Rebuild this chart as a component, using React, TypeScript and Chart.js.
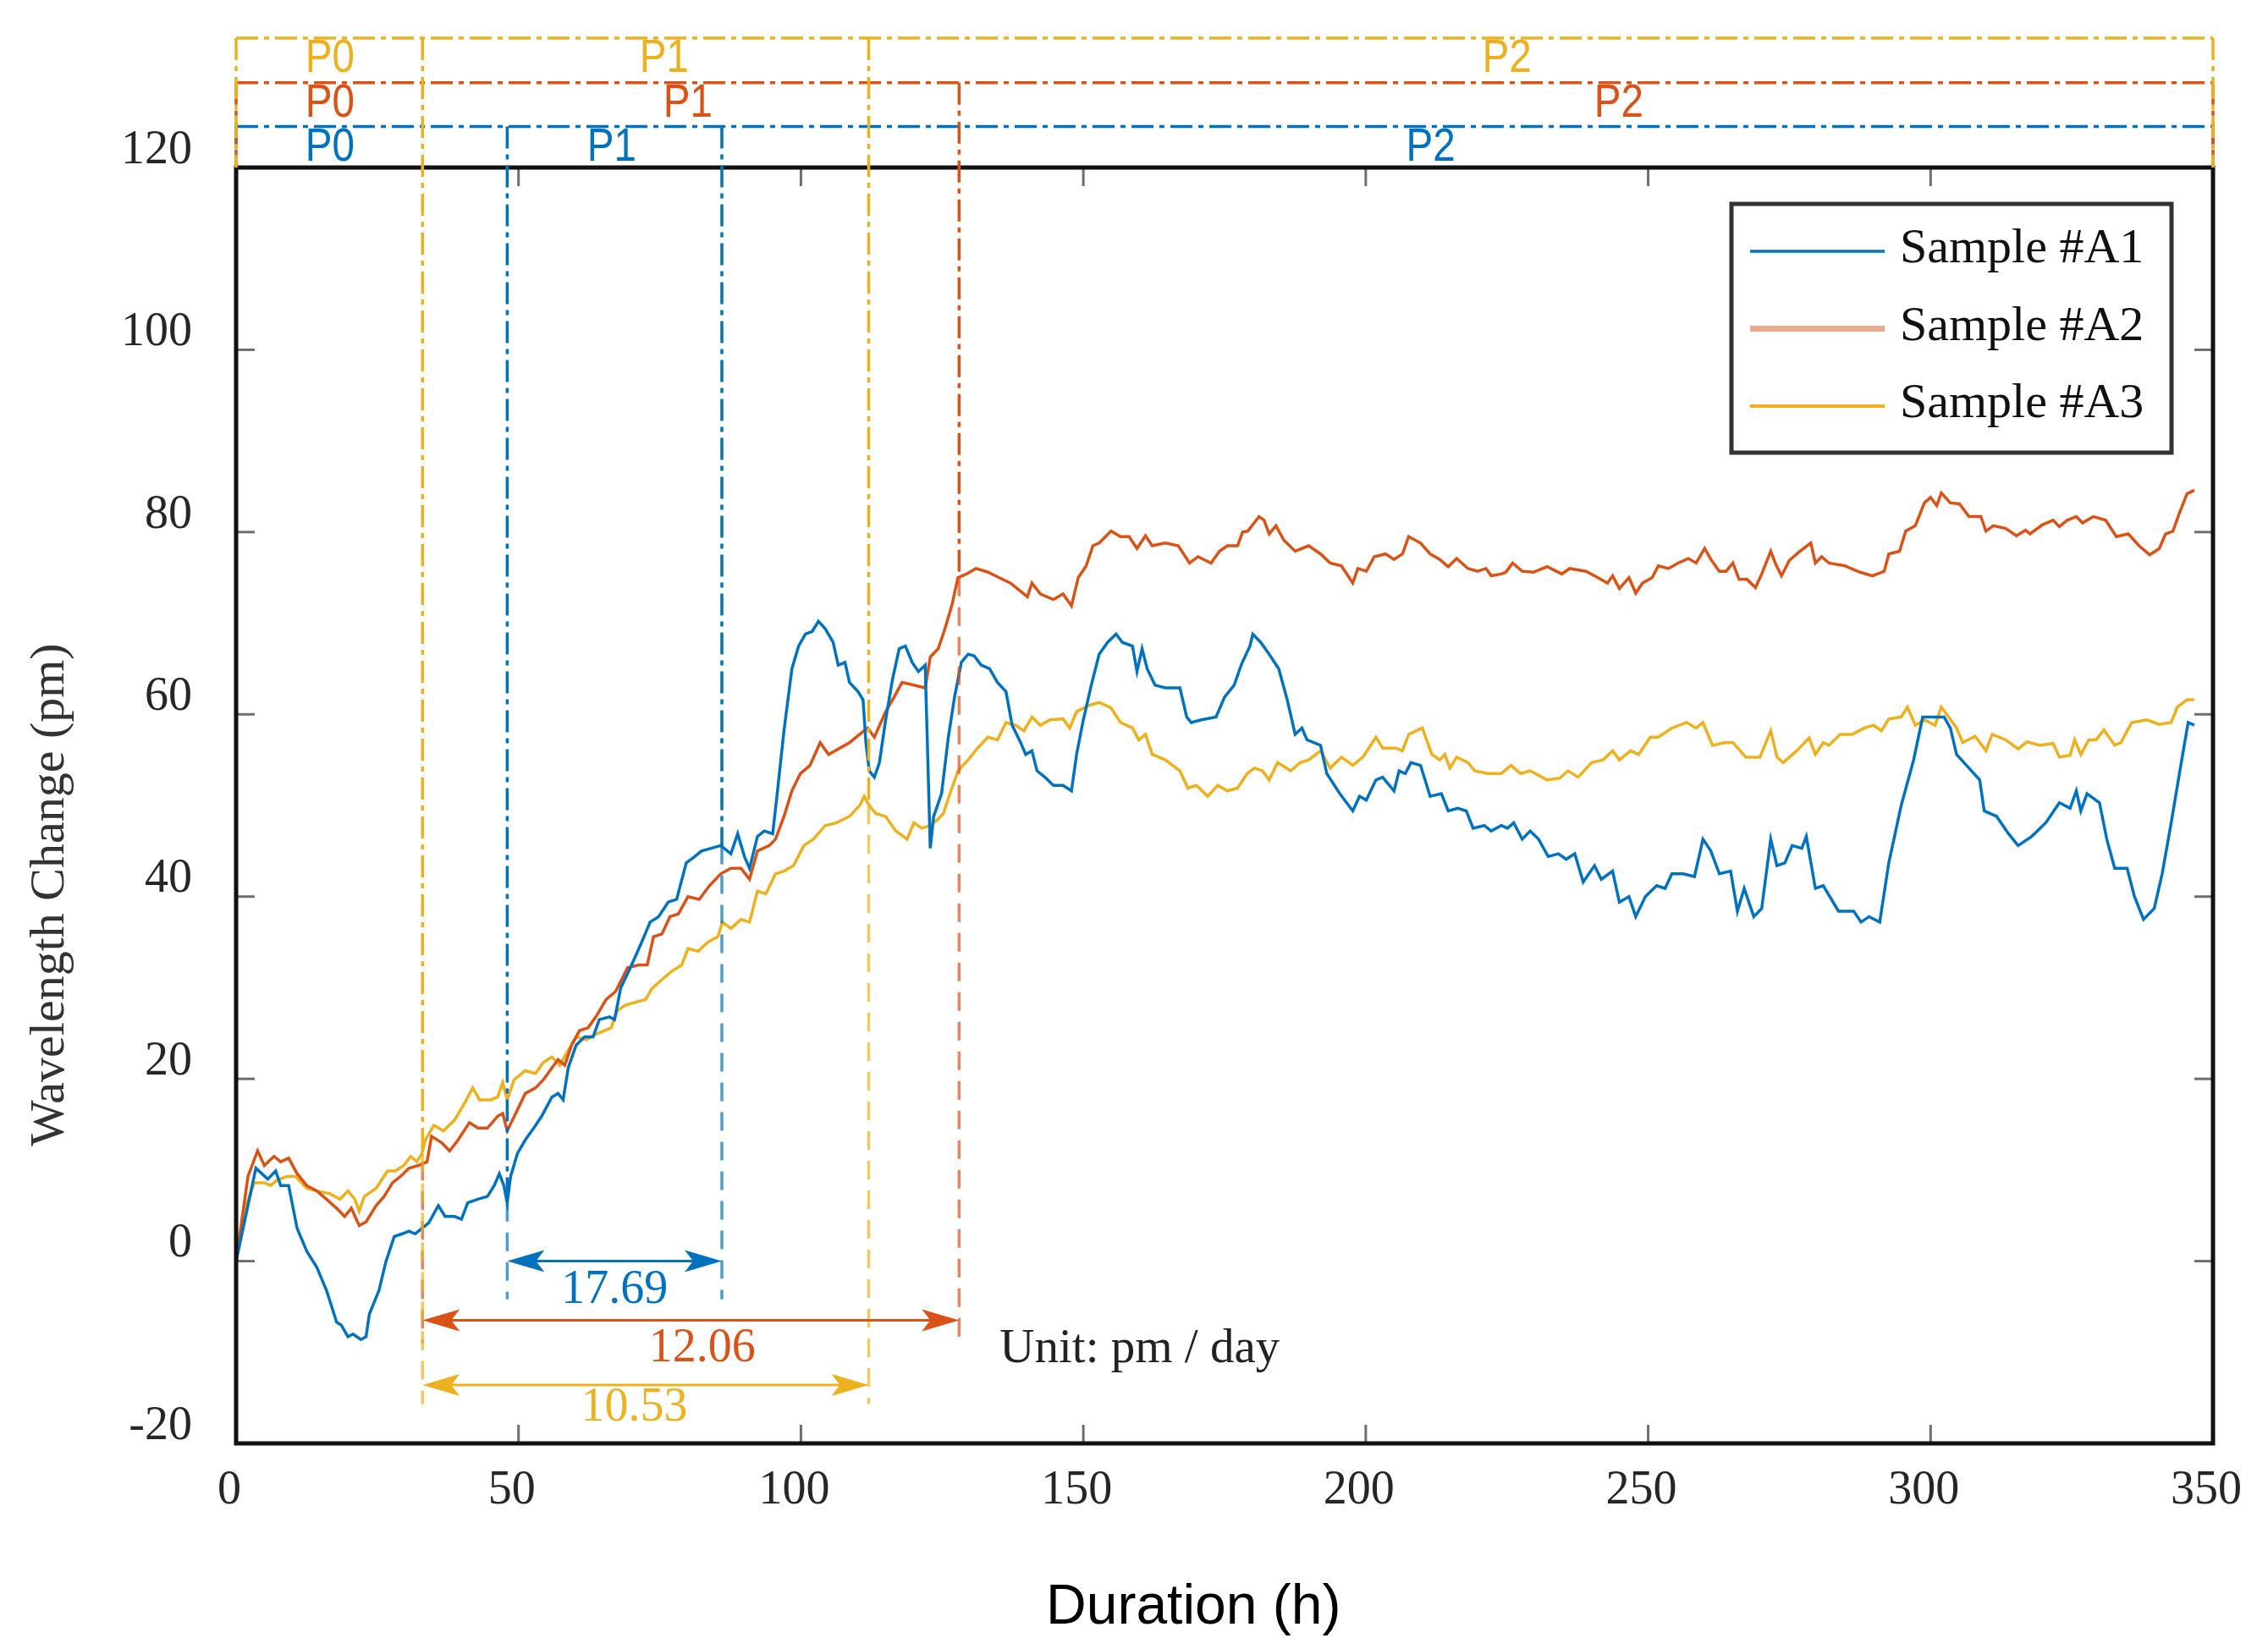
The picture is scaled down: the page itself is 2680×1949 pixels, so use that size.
import React, { useRef, useEffect } from 'react';
import { Chart, registerables } from 'chart.js';

Chart.register(...registerables);

// Sample #A1 (blue)
const a1Hours = [
  0, 3.5, 5.6, 7, 7.9, 9.3, 10.8, 12.5, 14.3, 16, 17.8, 18.6, 19.8, 20.7, 22.1, 23, 23.6, 25.3, 26.5, 28,
  29.4, 30.6, 31.7, 32.9, 34.1, 35.8, 37, 38.7, 39.9, 41, 42.8, 44.5, 45.7, 46.6, 47.4, 48, 48.6, 49.8, 51.2, 52.7,
  54.1, 55.9, 57, 57.9, 58.8, 60.2, 61.7, 63.2, 64.3, 66.1, 67, 68.1, 69.8, 71.6, 73.3, 74.8, 76.5, 78, 79.7, 81.2,
  82.4, 84.1, 85.8, 87.6, 88.8, 90, 90.9, 92.3, 93.5, 95, 95.8, 97, 98.4, 99.6, 100.8, 102, 103.1, 104.3, 105.7, 106.6,
  107.8, 108.6, 110.1, 111, 111.5, 112.1, 113, 113.9, 115, 116.2, 117.4, 118.5, 119.7, 120.8, 122, 122.9, 123.5, 124.9, 126.1, 127.2,
  128.4, 129.6, 130.7, 131.9, 133.4, 134.8, 136.3, 137.4, 138.9, 139.8, 140.9, 141.8, 143.2, 144.7, 146.4, 147.9, 148.8, 150, 151.4, 152.8,
  154.3, 155.8, 156.9, 158.7, 159.5, 160.4, 161.3, 162.7, 164.5, 167.1, 168.3, 169.1, 170.9, 173.5, 175, 176.7, 178, 179.5, 180, 181.4,
  182.9, 184.6, 186.1, 187.5, 188.7, 189.6, 192, 193.1, 195.4, 197.7, 198.9, 200.1, 201.8, 203, 205, 205.9, 207, 208, 209.7, 211.4,
  213.4, 214.6, 216.3, 217.8, 219, 221, 222.2, 224, 225.1, 226.2, 227.7, 229.1, 230.6, 232.3, 234.1, 235.5, 237, 238.5, 240.5, 241.7,
  243.7, 244.9, 246.6, 247.8, 249.5, 251.5, 253, 254.2, 256.2, 258.2, 259.7, 261.1, 262.6, 264.6, 265.8, 267, 268.7, 270.1, 271.7, 272.8,
  274.2, 275.5, 277.2, 278, 279.6, 281, 283.7, 286.4, 287.7, 289.1, 291, 292.6, 294.8, 297, 298.6, 300.8, 302.4, 303.5, 304.6, 306.8,
  308.7, 309.5, 311.7, 313.8, 315.5, 317.9, 320.4, 322.8, 324.7, 325.8, 326.6, 327.7, 329.9, 331.2, 332.6, 334.8, 336.1, 337.7, 339.6, 341,
  342.6, 344.3, 345.6, 346.7,
];
const a1Values = [
  0, 10.2, 9.0, 9.9, 8.3, 8.3, 3.6, 1.1, -0.7, -3.2, -6.7, -7.0, -8.3, -8.0, -8.6, -8.3, -5.8, -3.2, -0.1, 2.7,
  3.0, 3.3, 3.0, 3.6, 4.2, 6.1, 4.9, 4.9, 4.6, 6.4, 6.8, 7.1, 8.3, 9.6, 8.3, 6.4, 9.3, 11.8, 13.3, 14.6,
  15.9, 18.0, 18.4, 17.7, 21.2, 23.7, 24.6, 24.6, 26.5, 26.8, 26.5, 30.0, 32.2, 34.7, 37.2, 37.8, 39.4, 39.7, 43.7, 44.4,
  45.0, 45.3, 45.6, 44.7, 46.9, 44.4, 43.1, 46.6, 47.2, 46.9, 51.3, 58.2, 65.0, 67.5, 68.8, 69.1, 70.2, 69.4, 67.9, 65.4,
  65.7, 63.5, 62.5, 61.6, 56.9, 53.8, 53.1, 54.7, 59.4, 63.8, 67.2, 67.5, 65.7, 64.7, 65.4, 45.3, 48.8, 51.3, 57.5, 61.9,
  65.7, 66.6, 66.4, 65.4, 65.0, 63.5, 62.5, 58.8, 56.9, 55.6, 56.0, 53.8, 53.1, 52.2, 52.2, 51.6, 55.6, 59.4, 63.2, 66.6,
  67.9, 68.8, 67.9, 67.5, 64.7, 67.2, 65.0, 63.2, 62.9, 62.9, 59.7, 59.1, 59.4, 59.7, 61.9, 63.2, 65.5, 67.5, 68.8, 67.9,
  66.6, 65.0, 61.6, 57.8, 58.5, 57.2, 56.6, 53.5, 51.3, 49.4, 51.0, 50.6, 52.8, 53.1, 51.6, 53.8, 53.5, 54.7, 54.4, 51.0,
  51.3, 49.4, 49.7, 49.4, 47.5, 47.8, 47.2, 47.8, 47.5, 48.1, 46.3, 47.2, 46.3, 44.4, 44.7, 44.1, 44.7, 41.6, 43.4, 41.9,
  42.8, 39.4, 40.0, 37.8, 40.0, 41.2, 40.9, 42.5, 42.5, 42.2, 46.3, 45.0, 42.5, 42.8, 38.4, 40.9, 37.8, 38.7, 46.3, 43.4,
  43.7, 45.6, 45.3, 46.6, 40.9, 41.2, 38.4, 38.4, 37.2, 37.8, 37.2, 43.7, 50.0, 55.0, 59.7, 59.7, 59.7, 58.5, 55.6, 54.1,
  52.8, 49.4, 48.8, 46.9, 45.6, 46.6, 48.1, 50.3, 49.7, 51.6, 49.4, 51.3, 50.3, 46.3, 43.1, 43.1, 40.0, 37.5, 38.7, 42.5,
  48.1, 54.4, 59.1, 58.8,
];

// Sample #A2 (orange)
const a2Hours = [
  0, 2.1, 3.8, 5, 6.7, 7.9, 9.3, 10.8, 12.5, 14.3, 16, 17.8, 19.2, 20.4, 21.8, 23, 24.8, 26.2, 27.7, 29.1,
  30.6, 32.3, 33.8, 34.6, 36.4, 37.8, 39.3, 41.3, 42.8, 44.5, 46.3, 47.2, 48, 49.5, 51.2, 53, 54.4, 55.9, 57, 58.2,
  59.4, 60.8, 62.3, 63.7, 65.5, 67.2, 69.3, 71.3, 72.8, 73.9, 75.4, 76.8, 78.3, 80, 82, 83.8, 85.8, 87.6, 89.4, 90.9,
  92.3, 94.4, 95.5, 97, 98.4, 99.9, 101.6, 103.4, 104.9, 106.9, 108.6, 110.4, 111.8, 113, 115, 116.5, 117.9, 120, 122, 122.9,
  124.3, 125.5, 126.7, 127.8, 129.3, 131, 133.1, 135.1, 137.1, 138.9, 140.1, 140.9, 142.4, 144.7, 146.4, 147.9, 149.1, 150.5, 151.7, 152.8,
  154.9, 156.6, 158.1, 159.5, 161, 162.2, 164.5, 166.8, 168.8, 170.3, 172.6, 174.1, 175.5, 177.3, 178.2, 179.1, 181.1, 182, 182.9, 184.1,
  185.5, 187.5, 189.9, 192, 193.7, 195.7, 197.7, 198.6, 200.1, 201.5, 203.5, 205, 206.5, 207.6, 209.7, 211.4, 213.1, 214.6, 216.1, 218.1,
  219.8, 221.3, 222.2, 224, 224.8, 226, 227.7, 229.7, 232.1, 234.7, 236.1, 239, 241.1, 242.8, 243.7, 244.9, 246.6, 247.8, 249, 250.7,
  251.8, 253.6, 255.3, 257.1, 258.5, 260, 261.1, 262.6, 263.8, 265, 266.1, 267.5, 269, 270.1, 271.7, 272.5, 273.6, 275, 276.9, 278.8,
  279.6, 280.7, 282, 284.8, 287.5, 289.7, 291.8, 292.6, 294.5, 295.6, 297.3, 298.9, 300, 301.1, 301.9, 303.5, 305.1, 306.8, 308.9, 309.8,
  311.1, 313.3, 315.2, 316.8, 317.6, 319.8, 321.7, 322.8, 324.2, 325.8, 326.9, 328.8, 331, 332.9, 335, 336.9, 338.8, 340.5, 341.6, 342.9,
  344, 345.4, 346.7,
];
const a2Values = [
  0, 9.3, 12.1, 10.5, 11.5, 10.9, 11.3, 9.6, 8.3, 7.7, 6.8, 5.8, 4.9, 5.8, 3.9, 4.3, 6.1, 7.1, 8.6, 9.3,
  10.2, 10.5, 10.9, 13.7, 13.0, 12.1, 13.3, 15.2, 14.6, 14.6, 15.9, 16.2, 14.3, 16.2, 18.4, 19.0, 19.9, 21.2, 22.1, 21.5,
  23.7, 25.3, 25.6, 26.8, 28.7, 29.6, 32.2, 32.5, 32.5, 35.6, 35.9, 37.8, 38.1, 40.0, 39.7, 41.2, 42.5, 43.1, 43.1, 41.9,
  45.0, 45.6, 46.3, 48.8, 51.6, 53.5, 54.4, 56.9, 55.6, 56.3, 56.9, 57.8, 58.5, 57.5, 60.3, 61.9, 63.5, 63.2, 62.9, 66.3,
  67.2, 69.4, 71.9, 75.0, 75.4, 76.0, 75.6, 75.0, 74.4, 73.5, 72.9, 74.4, 73.2, 72.6, 73.2, 71.9, 75.0, 76.3, 78.5, 78.8,
  80.1, 79.5, 79.5, 78.2, 79.6, 78.5, 78.8, 78.5, 76.6, 77.3, 76.6, 77.9, 78.5, 78.5, 80.0, 80.1, 81.7, 81.3, 79.8, 80.7,
  79.1, 77.9, 78.5, 77.6, 76.6, 76.3, 74.4, 76.0, 75.7, 77.3, 77.6, 77.0, 77.6, 79.5, 78.8, 77.6, 77.0, 76.2, 77.1, 76.0,
  75.7, 76.0, 75.2, 75.4, 75.6, 76.6, 75.7, 75.6, 76.2, 75.4, 76.0, 75.7, 75.0, 74.4, 75.2, 73.8, 75.0, 73.3, 74.4, 75.0,
  76.3, 76.0, 76.6, 77.1, 76.6, 78.2, 77.0, 75.7, 75.7, 76.6, 74.8, 74.8, 73.9, 75.4, 77.9, 76.6, 75.2, 76.9, 77.9, 78.8,
  76.6, 77.3, 76.6, 76.3, 75.6, 75.2, 75.7, 77.6, 77.9, 80.1, 80.7, 83.2, 83.8, 82.9, 84.3, 83.2, 83.1, 81.7, 81.7, 80.1,
  80.7, 80.4, 79.6, 80.2, 79.8, 80.8, 81.3, 80.6, 81.3, 81.7, 81.0, 81.7, 81.3, 79.5, 79.8, 78.5, 77.5, 78.2, 79.8, 80.1,
  82.0, 84.2, 84.6,
];

// Sample #A3 (yellow)
const a3Hours = [
  0, 1.8, 3.2, 5, 6.1, 7.3, 9, 10.5, 12.5, 14.3, 16.6, 18.4, 19.8, 21, 21.8, 22.7, 24.8, 26.8, 28.2, 29.7,
  30.9, 32, 32.9, 33.5, 35, 36.7, 38.7, 40.5, 41.9, 43.1, 45.1, 46.3, 47.2, 48, 49.2, 51.2, 53, 54.4, 55.9, 57.3,
  58.5, 60.2, 62, 63.7, 65.2, 66.4, 67.5, 69, 70.7, 72.5, 73.6, 75.4, 77.1, 78.9, 80, 81.8, 83.5, 85.3, 86.1, 87.6,
  89.4, 90.9, 92.3, 93.8, 95.5, 97, 98.7, 100.5, 102.2, 104.3, 106.3, 108.6, 110.4, 111.2, 112.1, 113.3, 115, 116.8, 118.8, 120,
  121.4, 122.9, 124.1, 125.2, 126.4, 127.8, 129.6, 131.3, 133.1, 134.8, 136.3, 138, 139.5, 140.9, 142.4, 144.1, 146.4, 147.6, 148.8, 151.1,
  152.8, 154.9, 156.6, 158.7, 159.8, 161, 162.2, 164.5, 167.1, 168.5, 170, 172, 173.8, 175.5, 177.3, 179, 180.3, 181.7, 182.9, 184.4,
  186.7, 188.4, 189.9, 192, 193.7, 195.7, 197.7, 199.5, 201.8, 203, 205.3, 206.5, 207.6, 210, 211.7, 213.1, 214, 214.9, 216.1, 218.1,
  219.3, 221.6, 224, 225.7, 227.4, 229.1, 232.1, 234.4, 235.8, 237.6, 240, 242, 243.7, 244.9, 246.9, 248.3, 250.4, 251.8, 254.2, 256.8,
  258.5, 259.7, 261.4, 263.5, 265, 267.3, 269.8, 271.7, 272.8, 273.9, 276.3, 278.5, 279.6, 281, 282, 284, 286.1, 288.3, 289.9, 291.3,
  292.6, 294.8, 295.9, 297.3, 298.9, 300.8, 301.9, 303.2, 304.6, 305.7, 307.9, 309.8, 310.9, 313.3, 315.5, 317.1, 319.3, 321.7, 322.8, 324.7,
  325.5, 326.6, 328, 329.3, 330.7, 332.6, 333.7, 335.6, 338.3, 340.5, 342.6, 343.7, 345.4, 346.7,
];
const a3Values = [
  0.2, 6.1, 8.6, 8.6, 8.3, 8.9, 9.3, 9.3, 8.0, 7.7, 7.4, 6.8, 7.7, 6.8, 5.5, 7.1, 8.0, 9.9, 9.9, 10.5,
  11.5, 10.9, 11.8, 13.3, 14.9, 14.3, 15.5, 17.4, 19.0, 17.7, 17.7, 18.0, 19.6, 17.7, 19.9, 20.9, 20.6, 21.8, 22.4, 21.5,
  22.8, 24.6, 24.3, 24.9, 25.3, 25.6, 27.5, 28.1, 28.4, 28.7, 29.9, 30.9, 31.8, 32.5, 34.3, 34.0, 35.0, 35.6, 37.2, 36.5,
  37.5, 37.2, 40.6, 40.3, 42.5, 42.8, 43.4, 45.6, 46.3, 47.8, 48.1, 48.8, 50.0, 51.0, 50.0, 49.1, 48.8, 47.2, 46.3, 48.1,
  47.5, 47.8, 48.4, 49.1, 51.3, 53.8, 55.0, 56.3, 57.5, 57.2, 59.1, 58.8, 58.2, 59.7, 58.8, 59.4, 59.5, 58.5, 60.3, 61.0,
  61.3, 60.7, 59.1, 58.5, 57.2, 57.8, 55.6, 55.0, 53.8, 51.9, 52.2, 51.0, 52.2, 51.6, 51.9, 53.5, 54.1, 53.8, 52.8, 54.7,
  53.8, 54.7, 55.0, 56.0, 54.1, 55.3, 54.4, 55.3, 57.5, 56.3, 56.3, 56.0, 57.8, 58.5, 55.6, 55.0, 55.6, 54.1, 55.3, 54.7,
  53.8, 53.5, 53.5, 54.4, 53.5, 53.8, 52.8, 53.0, 53.8, 53.1, 54.7, 55.0, 56.0, 55.0, 56.0, 55.6, 57.5, 57.5, 58.5, 59.1,
  58.5, 59.1, 56.6, 56.9, 56.9, 55.3, 55.3, 58.2, 55.3, 54.7, 56.0, 57.4, 55.6, 56.9, 56.6, 57.8, 57.8, 58.5, 58.8, 58.2,
  59.5, 59.7, 60.8, 58.8, 59.4, 58.8, 60.8, 59.7, 58.5, 56.9, 57.6, 56.0, 57.8, 57.2, 56.2, 57.0, 56.6, 56.8, 55.3, 55.5,
  57.2, 55.6, 57.2, 57.2, 58.3, 56.6, 56.9, 59.1, 59.4, 58.9, 59.1, 60.8, 61.6, 61.6,
];

const sampleNames = ['Sample #A1', 'Sample #A2', 'Sample #A3'];
const sampleColors = ['#0072BD', '#D95319', '#EDB120'];
const legendLineColors = ['#0072BD', '#EDA88B', '#EDB120'];

// phase brackets above the plot (blue, orange, yellow)
const phaseLevels = [124.5, 129.3, 134.2];
const phaseSplits = [[48, 86], [33, 128], [33, 112]];
const splitCurveValues = [[6.4, 45.6], [10.9, 75.0], [11.8, 50.0]];
const splitHasUpper = [[true, true], [false, true], [true, true]]; // orange P0/P1 line is hidden behind the yellow one
const splitBottoms = [-4.2, -9.0, -15.7];
const phaseNames = ['P0', 'P1', 'P2'];
const phaseLabelHours = [[16.6, 66.5, 211.5], [16.6, 80, 244.8], [16.6, 75.8, 225]];

// rates between phase boundaries (pm / day)
const rateTexts = ['17.69', '12.06', '10.53'];
const rateArrowValues = [0, -6.5, -13.6];
const rateLabelHours = [67, 82.5, 70.5];
const rateLabelValues = [-3.2, -9.6, -16.1];

const toPoints = (hours: number[], values: number[]) => hours.map((h, i) => ({ x: h, y: values[i] }));

const DASH_DOT = [26, 7, 6, 7];
const DASHED = [22, 13];
const SERIF = '"Liberation Serif", "Times New Roman", serif';
const SANS = '"Liberation Sans", Arial, sans-serif';

const annotationPlugin = {
  id: 'phaseAnnotations',
  afterDatasetsDraw(chart: any) {
    const { ctx, chartArea: area, scales } = chart;
    const xs = scales.x;
    const ys = scales.y;
    const px = (v: number) => xs.getPixelForValue(v);
    const py = (v: number) => ys.getPixelForValue(v);
    const seg = (x1: number, y1: number, x2: number, y2: number) => {
      ctx.beginPath();
      ctx.moveTo(x1, y1);
      ctx.lineTo(x2, y2);
      ctx.stroke();
    };

    ctx.save();

    // inward tick marks on all four sides
    ctx.setLineDash([]);
    ctx.strokeStyle = '#6e6e6e';
    ctx.lineWidth = 3;
    xs.ticks.forEach((t: any) => {
      if (t.value <= xs.min || t.value >= xs.max) return;
      const X = px(t.value);
      seg(X, area.bottom, X, area.bottom - 22);
      seg(X, area.top, X, area.top + 22);
    });
    ys.ticks.forEach((t: any) => {
      if (t.value <= ys.min || t.value >= ys.max) return;
      const Y = py(t.value);
      seg(area.left, Y, area.left + 22, Y);
      seg(area.right, Y, area.right - 22, Y);
    });

    // frame
    ctx.strokeStyle = '#111111';
    ctx.lineWidth = 5;
    ctx.strokeRect(area.left, area.top, area.right - area.left, area.bottom - area.top);

    // phase brackets
    sampleColors.forEach((color, i) => {
      const top = py(phaseLevels[i]);
      ctx.strokeStyle = color;
      ctx.lineWidth = 3.5;
      ctx.setLineDash(DASH_DOT);
      seg(px(xs.min), top, px(xs.max), top);
      seg(px(xs.min), top, px(xs.min), area.top);
      seg(px(xs.max), top, px(xs.max), area.top);
      phaseSplits[i].forEach((h, k) => {
        const X = px(h);
        const mid = py(splitCurveValues[i][k]);
        if (splitHasUpper[i][k]) {
          ctx.setLineDash(DASH_DOT);
          seg(X, top, X, mid);
        }
        ctx.globalAlpha = 0.7;
        ctx.setLineDash(DASHED);
        seg(X, mid, X, py(splitBottoms[i]));
        ctx.globalAlpha = 1;
      });

      ctx.fillStyle = color;
      ctx.textAlign = 'center';
      ctx.textBaseline = 'middle';
      ctx.font = `56px ${SANS}`;
      phaseNames.forEach((name, k) => {
        ctx.save();
        ctx.translate(px(phaseLabelHours[i][k]), top + 25);
        ctx.scale(0.85, 1);
        ctx.fillText(name, 0, 0);
        ctx.restore();
      });
    });

    // rate arrows
    sampleColors.forEach((color, i) => {
      const x1 = px(phaseSplits[i][0]);
      const x2 = px(phaseSplits[i][1]);
      const Y = py(rateArrowValues[i]);
      ctx.setLineDash([]);
      ctx.strokeStyle = color;
      ctx.fillStyle = color;
      ctx.lineWidth = 3;
      seg(x1 + 10, Y, x2 - 10, Y);
      [[x1, 1], [x2, -1]].forEach(([tip, dir]) => {
        ctx.beginPath();
        ctx.moveTo(tip, Y);
        ctx.lineTo(tip + dir * 44, Y - 13);
        ctx.lineTo(tip + dir * 34, Y);
        ctx.lineTo(tip + dir * 44, Y + 13);
        ctx.closePath();
        ctx.fill();
      });
      ctx.font = `56px ${SERIF}`;
      ctx.textAlign = 'center';
      ctx.textBaseline = 'middle';
      ctx.fillText(rateTexts[i], px(rateLabelHours[i]), py(rateLabelValues[i]));
    });

    ctx.fillStyle = '#222222';
    ctx.font = `57px ${SERIF}`;
    ctx.textAlign = 'left';
    ctx.textBaseline = 'middle';
    ctx.fillText('Unit: pm / day', px(135.2), py(-9.7));

    // legend box
    const boxRight = area.right - 49;
    const boxTop = area.top + 43;
    const boxW = 520;
    const boxH = 294;
    const boxLeft = boxRight - boxW;
    ctx.fillStyle = '#ffffff';
    ctx.fillRect(boxLeft, boxTop, boxW, boxH);
    ctx.strokeStyle = '#333333';
    ctx.lineWidth = 5;
    ctx.strokeRect(boxLeft, boxTop, boxW, boxH);
    const legendWidths = [3.5, 7, 4];
    sampleNames.forEach((name, i) => {
      const Y = boxTop + 56 + i * 91.5;
      ctx.strokeStyle = legendLineColors[i];
      ctx.lineWidth = legendWidths[i];
      seg(boxLeft + 22, Y, boxLeft + 181, Y);
      ctx.fillStyle = '#111111';
      ctx.font = `58px ${SERIF}`;
      ctx.textAlign = 'left';
      ctx.textBaseline = 'middle';
      ctx.fillText(name, boxLeft + 199, Y - 2);
    });

    // axis titles
    ctx.save();
    ctx.translate(ys.left + 60, py(40.2));
    ctx.rotate(-Math.PI / 2);
    ctx.fillStyle = '#333333';
    ctx.font = `58px ${SERIF}`;
    ctx.textAlign = 'center';
    ctx.textBaseline = 'middle';
    ctx.fillText('Wavelength Change (pm)', 0, 0);
    ctx.restore();

    ctx.fillStyle = '#000000';
    ctx.font = `66px ${SANS}`;
    ctx.textAlign = 'center';
    ctx.textBaseline = 'middle';
    ctx.fillText('Duration (h)', px(169.5), xs.bottom - 48);

    ctx.restore();
  },
};

const App: React.FC = () => {
  const canvasRef = useRef<HTMLCanvasElement>(null);
  const chartRef = useRef<Chart | null>(null);

  useEffect(() => {
    if (!canvasRef.current) return;
    if (chartRef.current) chartRef.current.destroy();

    const series = [
      toPoints(a1Hours, a1Values),
      toPoints(a2Hours, a2Values),
      toPoints(a3Hours, a3Values),
    ];

    chartRef.current = new Chart(canvasRef.current, {
      type: 'line',
      data: {
        datasets: series.map((pts, i) => ({
          label: sampleNames[i],
          data: pts,
          borderColor: sampleColors[i],
          backgroundColor: sampleColors[i],
          borderWidth: 3.5,
          pointRadius: 0,
          tension: 0,
          fill: false,
        })),
      },
      options: {
        animation: false,
        responsive: true,
        maintainAspectRatio: false,
        layout: { padding: { left: 0, right: 61, top: 198, bottom: 0 } },
        plugins: {
          legend: { display: false },
          tooltip: { enabled: false },
        },
        scales: {
          x: {
            type: 'linear',
            min: 0,
            max: 350,
            grid: { display: false, drawTicks: false },
            border: { display: false },
            ticks: {
              stepSize: 50,
              padding: 23,
              labelOffset: -8,
              color: '#262626',
              font: { family: SERIF, size: 56 },
            },
            afterFit: (scale: any) => {
              scale.height = 243;
            },
          },
          y: {
            min: -20,
            max: 120,
            grid: { display: false, drawTicks: false },
            border: { display: false },
            ticks: {
              stepSize: 20,
              padding: 52,
              labelOffset: -20,
              color: '#262626',
              font: { family: SERIF, size: 56 },
            },
            afterFit: (scale: any) => {
              scale.width = 279;
            },
          },
        },
      },
      plugins: [annotationPlugin],
    });

    return () => {
      if (chartRef.current) {
        chartRef.current.destroy();
        chartRef.current = null;
      }
    };
  }, []);

  return (
    <div style={{ position: 'absolute', left: 0, top: 0, width: '2680px', height: '1949px', background: '#ffffff' }}>
      <canvas ref={canvasRef} />
    </div>
  );
};

export default App;
